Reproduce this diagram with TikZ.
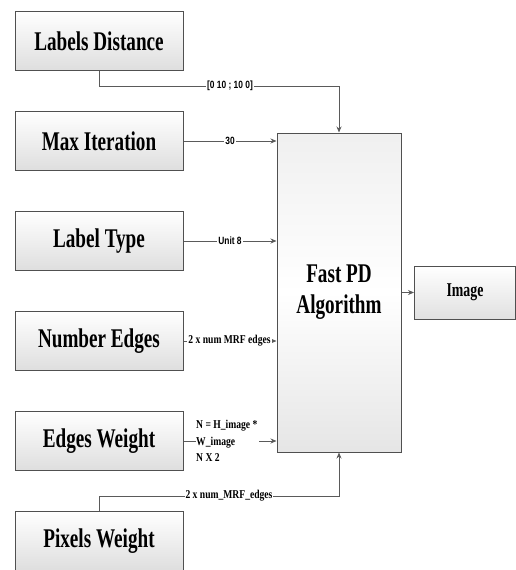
\documentclass[tikz,border=0pt]{standalone}
\usepackage{fontspec}
\newfontfamily\boxfont[FakeStretch=0.71]{Liberation Serif Bold}
\newfontfamily\lblserif[FakeStretch=0.8]{Liberation Serif Bold}
\newfontfamily\lblsans[FakeStretch=0.8]{Liberation Sans Bold}
\usetikzlibrary{arrows.meta}
\definecolor{edgegray}{HTML}{5A5A5A}
\definecolor{boxborder}{HTML}{505050}
\begin{document}
\begin{tikzpicture}[x=1pt,y=-1pt,
  inbox/.style={draw=boxborder,line width=1pt,top color=white,bottom color=black!13,
    minimum width=168pt,minimum height=59pt,inner sep=0pt,
    font=\boxfont\fontsize{27}{30}\selectfont},
  bigbox/.style={draw=boxborder,line width=1pt,
    top color=black!6,bottom color=black!10,middle color=white,
    minimum width=124pt,minimum height=319pt,inner sep=0pt,align=center,
    font=\boxfont\fontsize{27}{31}\selectfont},
  outbox/.style={draw=boxborder,line width=1pt,top color=white,bottom color=black!12,
    minimum width=101pt,minimum height=53pt,inner sep=0pt,
    font=\boxfont\fontsize{19.5}{22}\selectfont},
  conn/.style={draw=edgegray,line width=0.9pt},
  arr/.style={conn,-{Stealth[length=6pt,width=5pt]}},
  slbl/.style={fill=white,inner sep=1pt,font=\lblsans\fontsize{10.5}{12}\selectfont},
  rlbl/.style={fill=white,inner sep=1pt,font=\lblserif\fontsize{12}{14}\selectfont},
]
\useasboundingbox[fill=white] (0,0) rectangle (516,570);

% input boxes
\node[inbox] (ld) at (99,41) {Labels Distance};
\node[inbox] (mi) at (99,141) {Max Iteration};
\node[inbox] (lt) at (99,241) {Label Type};
\node[inbox] (ne) at (99,341) {Number Edges};
\node[inbox] (ew) at (99,441) {Edges Weight};
\node[inbox] (pw) at (99,541) {Pixels Weight};

% central block and output
\node[bigbox] (fp) at (339,292.5) {Fast PD\\Algorithm};
\node[outbox] (im) at (465,292.5) {Image};

% Labels Distance
\coordinate (ldc) at (339,86);
\draw[arr] (ld.south) |- (ldc) -- (fp.north);
\node[slbl] (ldl) at (230,86) {[0 10 ; 10 0]};

% Max Iteration
\draw[arr] (mi.east) -- (mi.east -| fp.west);
\node[slbl] (mil) at (230,141) {30};

% Label Type
\draw[arr] (lt.east) -- (lt.east -| fp.west);
\node[slbl] (ltl) at (230,241) {Unit 8};

% Number Edges
\draw[arr] (ne.east) -- (ne.east -| fp.west);
\node[rlbl] (nel) at (229.5,341) {2 x num MRF edges};

% Edges Weight
\node[anchor=west,inner sep=0pt,align=left,
  font=\lblserif\fontsize{12}{16.5}\selectfont] (ewl) at (196,441)
  {N = H\_image *\\W\_image\\N X 2};
\draw[conn] (ew.east) -- (ewl.west);
\coordinate (ewa) at (259,441);
\draw[arr] (ewa) -- (ewa -| fp.west);

% Pixels Weight
\coordinate (pwc) at (339,496);
\draw[arr] (pw.north) |- (pwc) -- (fp.south);
\node[rlbl] (pwl) at (229,496) {2 x num\_MRF\_edges};

% output
\draw[arr] (fp.east |- im.west) -- (im.west);
\end{tikzpicture}
\end{document}
